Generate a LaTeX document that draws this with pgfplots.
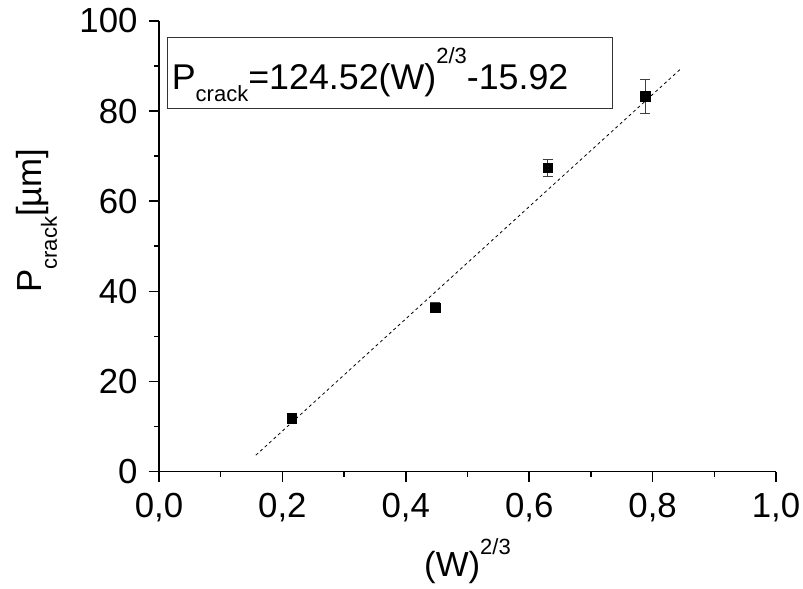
\documentclass[border=0pt]{standalone}
\usepackage{pgfplots}
\pgfplotsset{compat=1.18}
\usepackage{fontspec}
\setmainfont{Liberation Sans}
\newcommand{\lblfont}{\fontsize{34.8bp}{40bp}\selectfont}
\newcommand{\eqfont}{\fontsize{35.8bp}{40bp}\selectfont}
\newcommand{\subfont}{\fontsize{22bp}{24bp}\selectfont}
\begin{document}
\begin{tikzpicture}
\begin{axis}[
    name=ax, at={(0,0)}, anchor=south west,
    scale only axis, width=617bp, height=450.5bp,
    xmin=0, xmax=1, ymin=0, ymax=100,
    clip=false,
    axis lines=left,
    axis line style={-, line width=1.6bp},
    xtick={0,0.2,0.4,0.6,0.8,1},
    ytick={0,20,40,60,80,100},
    minor x tick num=1, minor y tick num=1,
    tick align=outside,
    major tick length=10bp, minor tick length=5bp,
    tick style={line width=1.6bp, black},
    /pgf/number format/assume math mode=true,
    ticklabel style={font=\lblfont},
    xticklabel style={yshift=-8bp, /pgf/number format/.cd, fixed, fixed zerofill, precision=1, use comma},
    yticklabel style={xshift=-8bp, /pgf/number format/.cd, fixed, precision=0},
    xlabel={(W)\raisebox{22bp}{\subfont 2/3}},
    xlabel style={font=\lblfont, at={(rel axis cs:0.5,0)}, anchor=base, yshift=-105.2bp},
    ylabel={P\raisebox{-15bp}{\subfont crack}[µm]},
    ylabel style={font=\lblfont, at={(rel axis cs:0,0.557)}, anchor=base, yshift=117bp},
]
% linear fit
\addplot[black, line width=0.8bp, dash pattern=on 3bp off 3bp] coordinates {(0.157,3.63) (0.845,89.30)};
% measured points
\addplot[black, only marks, mark=square*, mark size=4.75bp,
    error bars/.cd, y dir=both, y explicit,
    error bar style={line width=0.8bp, black!75},
    error mark options={rotate=90, mark size=5bp, line width=0.8bp, black!75}]
    table[x=x, y=y, y error=err] {
x     y     err
0.215 11.8  1.0
0.448 36.4  1.1
0.630 67.4  1.9
0.788 83.3  3.8
};
\draw[line width=1bp, black!80] (axis cs:0.014,80.6) rectangle (axis cs:0.735,96.3);
\node[anchor=base west, inner sep=0pt, font=\eqfont] at (axis cs:0.0205,84.8)
    {P\raisebox{-12.5bp}{\subfont crack}=124.52(W)\raisebox{26bp}{\subfont 2/3}-15.92};
\end{axis}
\pgfresetboundingbox
\path[use as bounding box] (ax.south west) ++(-159bp,-117.5bp) rectangle ++(803bp,589bp);
\end{tikzpicture}
\end{document}
